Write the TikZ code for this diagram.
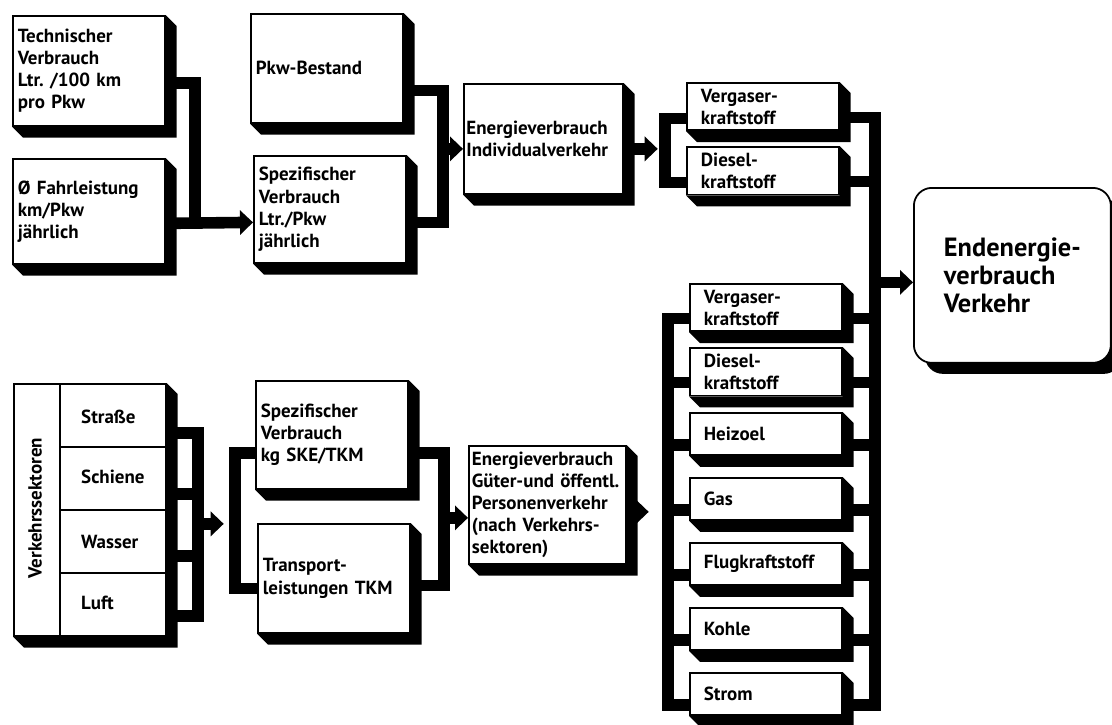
\documentclass[tikz,border=0pt]{standalone}
\usepackage{fontspec}
\setmainfont{PT Sans}
\usetikzlibrary{arrows.meta, positioning, calc, shadows}

\begin{document}
\begin{tikzpicture}[
    x=0.02cm, y=-0.02cm,
    box/.style={draw, line width=1pt, fill=white, anchor=north west, align=left,
                font=\bfseries\fontsize{10.8}{12.6}\selectfont,
                inner xsep=0.1cm, text width=2.84cm, minimum height=#1},
    box/.default=2.2cm,
    fuel/.style={box=0.84cm, inner xsep=0.28cm, text width=2.48cm},
    endbox/.style={draw, line width=1pt, fill=white, anchor=north west, rounded corners=0.36cm,
                minimum width=3.94cm, minimum height=3.5cm, align=left,
                font=\bfseries\fontsize{15}{15.8}\selectfont,
                drop shadow={shadow xshift=0.22cm, shadow yshift=-0.22cm, fill=black, opacity=1}},
    lbl/.style={anchor=west, font=\bfseries\fontsize{10.8}{12.6}\selectfont},
    bar/.style={line width=6.6pt, line join=miter},
    arrow/.style={bar, -{Triangle[length=0.26cm, width=0.48cm]}}
]
    \useasboundingbox (0,0) rectangle (1112,724);

    % Nodes - Individualverkehr
    \node[box] (tech) at (12,15) {Technischer\\Verbrauch\\Ltr.\ /100 km\\pro Pkw};
    \node[box=2.1cm] (fahr) at (12,158) {Ø Fahrleistung\\km/Pkw\\jährlich};
    \node[box=2.18cm] (bestand) at (250,13) {Pkw-Bestand};
    \node[box=2.14cm] (spezpkw) at (253,155) {Spezifischer\\Verbrauch\\Ltr./Pkw\\jährlich};
    \node[box, inner xsep=0.05cm, text width=3.08cm] (eindiv) at (463,83) {Energieverbrauch\\Individualverkehr};
    \node[fuel] (verg1) at (686,82) {Vergaser-\\kraftstoff};
    \node[fuel] (dies1) at (686,146) {Diesel-\\kraftstoff};

    % Nodes - Gueter- und oeffentl. Verkehr
    \node[box=5.04cm] (sektor) at (13,383) {};
    \node[lbl] (strasse) at ($(sektor.north west)+(62,34)$) {Straße};
    \node[lbl] (schiene) at ($(sektor.north west)+(62,94)$) {Schiene};
    \node[lbl] (wasser) at ($(sektor.north west)+(62,159)$) {Wasser};
    \node[lbl] (luft) at ($(sektor.north west)+(62,220)$) {Luft};
    \node[lbl, anchor=center, rotate=90] (titel) at ($(sektor.north west)+(22,125)$) {Verkehrssektoren};
    \node[box=2.16cm] (spezkg) at (255,380) {Spezifischer\\Verbrauch\\kg SKE/TKM};
    \node[box=2.18cm] (tkm) at (257,523) {Transport-\\leistungen TKM};
    \node[box=2.34cm, inner xsep=0.06cm, text width=3.02cm] (egueter) at (468,445) {Energieverbrauch\\Güter-und öffentl.\\Personenverkehr\\(nach Verkehrs-\\sektoren)};
    \node[fuel] (verg2) at (689,283) {Vergaser-\\kraftstoff};
    \node[fuel] (dies2) at (689,347) {Diesel-\\kraftstoff};
    \node[fuel] (heiz) at (689,412) {Heizoel};
    \node[fuel] (gas) at (689,477) {Gas};
    \node[fuel] (flug) at (689,542) {Flugkraftstoff};
    \node[fuel] (kohle) at (689,607) {Kohle};
    \node[fuel] (strom) at (689,672) {Strom};

    \node[endbox] (endv) at (913,187) {Endenergie-\\verbrauch\\Verkehr};

    % Shadows
    \foreach \n in {tech,fahr,bestand,spezpkw,eindiv,verg1,dies1,sektor,spezkg,tkm,egueter,verg2,dies2,heiz,gas,flug,kohle,strom}
        \fill (\n.north east) -- ++(11,11) -- ($(\n.south east)+(11,11)$) -- ($(\n.south west)+(11,11)$) -- (\n.south west) -- (\n.south east) -- cycle;

    % Sector grid
    \draw[line width=1pt] ($(sektor.north west)+(47,0)$) -- ($(sektor.south west)+(47,0)$);
    \foreach \dy in {64,127,190}
        \draw[line width=1pt] ($(sektor.north west)+(47,\dy)$) -- ($(sektor.north east)+(0,\dy)$);

    % Connectors - upper part
    \draw[bar] ($(tech.east)+(0,12)$) -| ($(fahr.east)+(29,12)$);
    \draw[arrow] ($(fahr.east)+(0,12)$) -- ($(spezpkw.west)+(0,13)$);
    \draw[bar] ($(bestand.east)+(0,22)$) -| ($(spezpkw.east)+(36,13)$) -- ($(spezpkw.east)+(0,13)$);
    \draw[arrow] ($(eindiv.west)+(-24,10)$) -- ($(eindiv.west)+(0,10)$);
    \draw[arrow] ($(eindiv.east)+(0,10)$) -- ($(eindiv.east)+(34,10)$);
    \draw[bar] ($(verg1.west)+(0,12)$) -| ($(dies1.west)+(-21,12)$) -- ($(dies1.west)+(0,12)$);

    % Connectors - lower part
    \draw[bar] ($(sektor.north east)+(0,50)$) -| ($(sektor.south east)+(31,-21)$) -- ($(sektor.south east)+(0,-21)$);
    \foreach \dy in {111,173}
        \draw[bar] ($(sektor.north east)+(0,\dy)$) -- ++(31,0);
    \draw[arrow] ($(sektor.east)+(31,14)$) -- ($(sektor.east)+(57,14)$);
    \draw[bar] ($(spezkg.west)+(0,18)$) -| ($(tkm.west)+(-22,10)$) -- ($(tkm.west)+(0,10)$);
    \draw[bar] ($(spezkg.east)+(0,18)$) -| ($(tkm.east)+(33,7)$) -- ($(tkm.east)+(0,7)$);
    \draw[arrow] ($(egueter.west)+(-27,13)$) -- ($(egueter.west)+(0,13)$);
    \draw[arrow] ($(egueter.east)+(0,7)$) -- ($(egueter.east)+(22,7)$);
    \draw[bar] ($(verg2.west)+(0,11)$) -| ($(strom.west)+(-21,11)$) -- ($(strom.west)+(0,11)$);
    \foreach \n in {dies2,heiz,gas,flug,kohle}
        \draw[bar] ($(\n.west)+(0,11)$) -- ++(-21,0);

    % Collector to Endenergieverbrauch
    \draw[bar] ($(verg1.east)+(0,11)$) -| ($(strom.east)+(32,11)$) -- ($(strom.east)+(0,11)$);
    \foreach \n in {dies1,verg2,dies2,heiz,gas,flug,kohle}
        \draw[bar] ($(\n.east)+(0,11)$) -- ++(33,0);
    \draw[arrow] ($(endv.west)+(-39,7)$) -- ($(endv.west)+(0,7)$);
\end{tikzpicture}
\end{document}
